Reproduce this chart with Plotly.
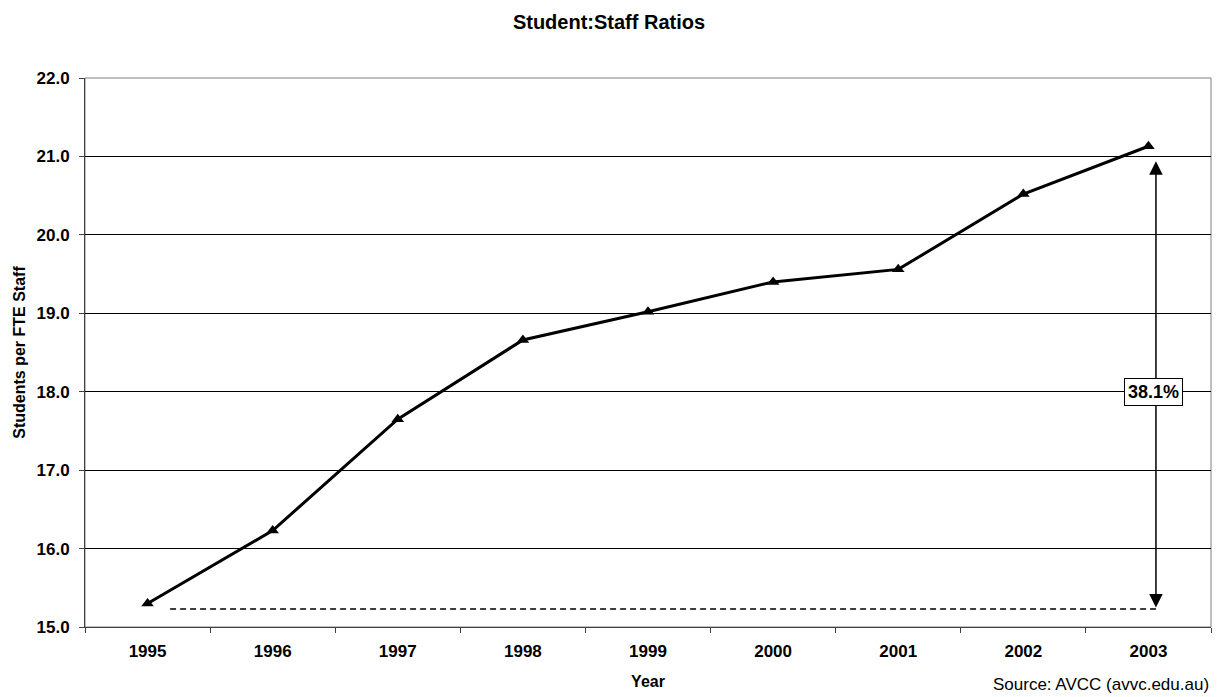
import plotly.graph_objects as go

# Student:staff ratios by year
years = ["1995", "1996", "1997", "1998", "1999", "2000", "2001", "2002", "2003"]
ratios = [15.30, 16.23, 17.65, 18.66, 19.02, 19.40, 19.56, 20.52, 21.13]

# growth bracket: baseline level, top of arrow, label
base_level = 15.23
arrow_top = 20.94
growth_label = "38.1%"
y_ticks = [15, 16, 17, 18, 19, 20, 21, 22]

font_family = "Liberation Sans, Arial, sans-serif"

fig = go.Figure()

fig.add_trace(go.Scatter(
    x=years, y=ratios, mode="lines+markers",
    line=dict(color="black", width=3),
    marker=dict(symbol="triangle-up", size=11, color="black"),
    showlegend=False, hoverinfo="skip",
))

# dashed baseline at the 1995 level
fig.add_shape(type="line", xref="x", yref="y",
              x0=0.18, x1=8.06, y0=base_level, y1=base_level,
              line=dict(color="black", width=1.5, dash="6px,4px"))

# double-headed arrow showing the rise
fig.add_annotation(x=8.06, y=arrow_top, ax=8.06, ay=base_level,
                   xref="x", yref="y", axref="x", ayref="y",
                   text="", showarrow=True, arrowhead=2, startarrowhead=2,
                   arrowside="end+start", arrowsize=1.8, startarrowsize=1.8,
                   arrowwidth=1.5, arrowcolor="black")

fig.add_annotation(x=8.04, y=18.0, xref="x", yref="y", text=growth_label,
                   showarrow=False, bgcolor="white", bordercolor="black",
                   borderwidth=1, borderpad=3,
                   font=dict(family=font_family, size=18, color="black", weight="bold"))

fig.add_annotation(x=1.0, y=0, xref="paper", yref="paper", yshift=-57,
                   xanchor="right", yanchor="middle", showarrow=False,
                   text="Source: AVCC (avvc.edu.au)",
                   font=dict(family=font_family, size=17, color="black"))

fig.update_layout(
    width=1218, height=697,
    margin=dict(l=85, r=7, t=78, b=70),
    paper_bgcolor="white", plot_bgcolor="white",
    title=dict(text="Student:Staff Ratios", x=0.5, xanchor="center",
               y=0.969, yanchor="middle",
               font=dict(family=font_family, size=20, color="black", weight="bold")),
    font=dict(family=font_family, color="black"),
)

fig.update_xaxes(
    type="category", tickson="boundaries", ticks="outside", ticklen=5,
    tickcolor="#404040", showline=True, linecolor="#404040", linewidth=1,
    mirror=False, showgrid=False, range=[-0.5, 8.5],
    tickfont=dict(family=font_family, size=17, color="black", weight="bold"),
    ticklabelstandoff=9,
    title=dict(text="Year", standoff=15,
               font=dict(family=font_family, size=16, color="black", weight="bold")),
)

fig.update_yaxes(
    range=[15, 22], tickvals=y_ticks, tickformat=".1f",
    ticks="outside", ticklen=5, tickcolor="#404040",
    showline=True, linecolor="#404040", linewidth=1,
    showgrid=True, gridcolor="black", gridwidth=1, zeroline=False,
    tickfont=dict(family=font_family, size=17, color="black", weight="bold"),
    ticklabelstandoff=6,
    title=dict(text="Students per FTE Staff", standoff=6,
               font=dict(family=font_family, size=16, color="black", weight="bold")),
)

# gray frame on the top and right of the plot area
fig.add_shape(type="rect", xref="paper", yref="paper", x0=0, x1=1, y0=0, y1=1,
              line=dict(color="#808080", width=1), layer="below")

fig.write_html("out.html")
